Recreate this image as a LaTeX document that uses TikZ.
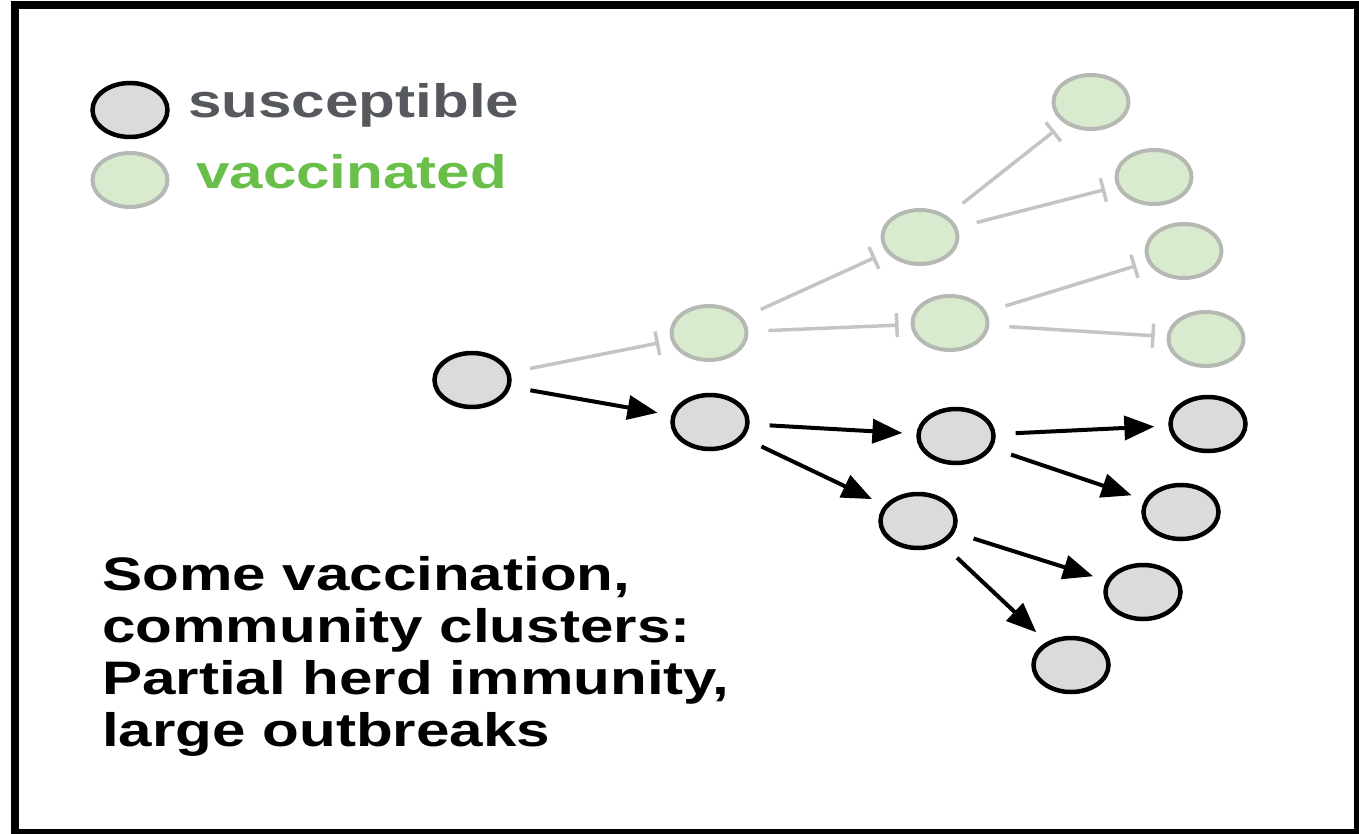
\documentclass[tikz,border=0pt]{standalone}
\usepackage{fontspec}
\setmainfont{Liberation Sans}[FakeStretch=1.28]
\usetikzlibrary{arrows.meta,shapes.geometric}
\definecolor{susfill}{HTML}{DADBDD}
\definecolor{vacfill}{HTML}{D9EBCF}
\definecolor{vacline}{HTML}{B6B8B4}
\definecolor{vacedge}{HTML}{C3C4C3}
\definecolor{susgray}{HTML}{55585D}
\definecolor{vacgreen}{HTML}{6ABF4B}
\begin{document}
\begin{tikzpicture}[x=1pt, y=-1pt,
    sus/.style={ellipse, draw=black, line width=4.5pt, fill=susfill,
      minimum width=75pt, minimum height=54pt, inner sep=0pt},
    vac/.style={ellipse, draw=vacline, line width=4pt, fill=vacfill,
      minimum width=75pt, minimum height=54pt, inner sep=0pt},
    spread/.style={line width=4pt, -{Triangle[length=30pt,width=24pt]},
      shorten <=20pt, shorten >=14pt},
    blocked/.style={vacedge, line width=3.5pt, -{Bar[width=24pt]},
      shorten <=20pt, shorten >=12pt},
    lbl/.style={font=\bfseries\fontsize{47}{52}\selectfont, inner sep=0pt}]
        \useasboundingbox (0,0) rectangle (1359,834);
        \clip (0,0) rectangle (1359,834);
        % Frame
        \draw[line width=8pt] (15,5) rectangle (1358,833);
        % Legend
        \node[sus] (legsus) at (130,110) {};
        \node[vac] (legvac) at (130,180) {};
        \node[lbl, anchor=base west, text=susgray] (suslbl) at (188,118) {susceptible};
        \node[lbl, anchor=base west, text=vacgreen] (vaclbl) at (196,189) {vaccinated};
        % Vaccinated branch: spread is blocked
        \node[vac] (v1) at (709,333) {};
        \node[vac] (v2) at (920,237) {};
        \node[vac] (v3) at (950,323) {};
        \node[vac] (v4) at (1091,102) {};
        \node[vac] (v5) at (1154,177) {};
        \node[vac] (v6) at (1184,251) {};
        \node[vac] (v7) at (1206,339) {};
        % Susceptible branch: outbreak spreads
        \node[sus] (s0) at (472,380) {};
        \node[sus] (s1) at (710,422) {};
        \node[sus] (s2) at (956,436) {};
        \node[sus] (s3) at (918,521) {};
        \node[sus] (s4) at (1208,424) {};
        \node[sus] (s5) at (1181,512) {};
        \node[sus] (s6) at (1143,592) {};
        \node[sus] (s7) at (1071,665) {};
        % Blocked links
        \draw[blocked] (s0) -- (v1);
        \draw[blocked] (v1) -- (v2);
        \draw[blocked] (v1) -- (v3);
        \draw[blocked] (v2) -- (v4);
        \draw[blocked] (v2) -- (v5);
        \draw[blocked] (v3) -- (v6);
        \draw[blocked] (v3) -- (v7);
        % Infection links
        \draw[spread] (s0) -- (s1);
        \draw[spread] (s1) -- (s2);
        \draw[spread] (s1) -- (s3);
        \draw[spread] (s2) -- (s4);
        \draw[spread] (s2) -- (s5);
        \draw[spread] (s3) -- (s6);
        \draw[spread] (s3) -- (s7);
        % Caption
        \node[lbl, anchor=north west, align=left] (caption) at (102,556)
          {Some vaccination,\\community clusters:\\Partial herd immunity,\\large outbreaks};
\end{tikzpicture}
\end{document}
